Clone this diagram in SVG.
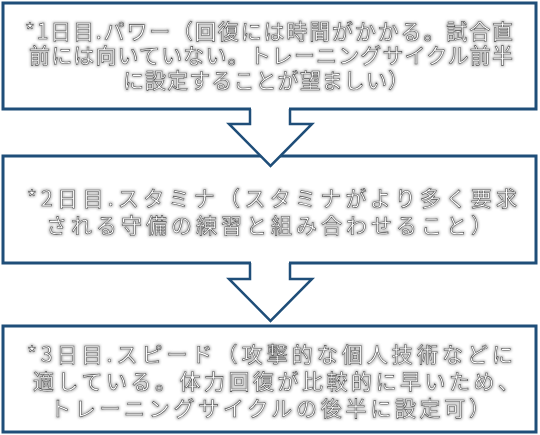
<svg xmlns="http://www.w3.org/2000/svg" width="540" height="435" viewBox="0 0 540 435">
  <defs>
    <filter id="glow" x="-5%" y="-10%" width="110%" height="120%">
      <feMorphology in="SourceAlpha" operator="dilate" radius="1.4" result="d"/>
      <feGaussianBlur in="d" stdDeviation="0.9" result="b"/>
      <feFlood flood-color="#a8a8a8" flood-opacity="0.7"/>
      <feComposite in2="b" operator="in" result="g"/>
      <feMerge>
        <feMergeNode in="g"/>
        <feMergeNode in="SourceGraphic"/>
      </feMerge>
    </filter>
  </defs>
  <style>
    .box { fill: #ffffff; stroke: #1f4e79; stroke-width: 3; }
    .afill { fill: #ffffff; stroke: none; }
    .aline { fill: none; stroke: #1f4e79; stroke-width: 2.5; stroke-linejoin: miter; }
    .t { font-family: "Noto Sans CJK JP", "Noto Sans", sans-serif; font-size: 21px; fill: #ffffff; stroke: #4a4a4a; stroke-width: 0.55; filter: url(#glow); }
  </style>
  <rect width="540" height="435" fill="#ffffff"/>

  <g id="node1">
    <rect class="box" x="3" y="3" width="533" height="106"/>
    <text class="t">
      <tspan x="25" y="39" textLength="488" lengthAdjust="spacing">*1日目.パワー（回復には時間がかかる。試合直</tspan>
      <tspan x="29" y="63" textLength="484" lengthAdjust="spacing">前には向いていない。トレーニングサイクル前半</tspan>
      <tspan x="123" y="88" textLength="286" lengthAdjust="spacing">に設定することが望ましい）</tspan>
    </text>
  </g>

  <g id="node2">
    <rect class="box" x="3" y="156" width="533" height="107"/>
    <text class="t">
      <tspan x="27" y="206" textLength="490" lengthAdjust="spacing">*2日目.スタミナ（スタミナがより多く要求</tspan>
      <tspan x="46" y="233" textLength="446" lengthAdjust="spacing">される守備の練習と組み合わせること）</tspan>
    </text>
  </g>

  <g id="node3">
    <rect class="box" x="3" y="326" width="533" height="106"/>
    <text class="t">
      <tspan x="27" y="362" textLength="486" lengthAdjust="spacing">*3日目.スピード（攻撃的な個人技術などに</tspan>
      <tspan x="33" y="389" textLength="486" lengthAdjust="spacing">適している。体力回復が比較的に早いため、</tspan>
      <tspan x="50" y="416" textLength="440" lengthAdjust="spacing">トレーニングサイクルの後半に設定可）</tspan>
    </text>
  </g>

  <g id="connectors">
    <g id="arrow1">
      <polygon class="afill" points="251,106 251,124 230,124 270.5,165 311,124 289,124 289,106"/>
      <polyline class="aline" points="250,109 250,124 229,124 270.5,166 312,124 290,124 290,109"/>
    </g>
    <g id="arrow2">
      <polygon class="afill" points="251,260 251,279 230,279 270.5,320 311,279 289,279 289,260"/>
      <polyline class="aline" points="250,263 250,279 229,279 270.5,321 312,279 290,279 290,263"/>
    </g>
  </g>
</svg>
